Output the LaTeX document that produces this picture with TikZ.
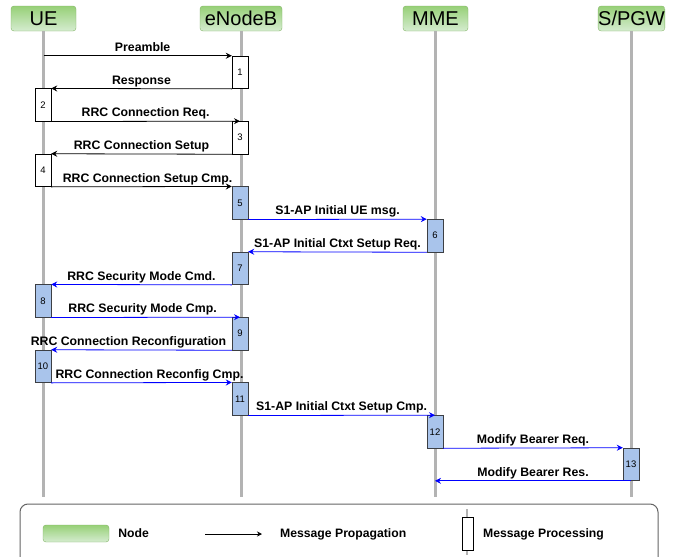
\documentclass[tikz,border=0pt]{standalone}
\usepackage{fontspec}
\setmainfont{Liberation Sans}
\usepackage{tikz}
\usetikzlibrary{arrows.meta,positioning}
\definecolor{nodetop}{RGB}{151,208,119}
\definecolor{nodebot}{RGB}{213,236,208}
\definecolor{nodeedge}{RGB}{130,179,102}
\definecolor{lifegray}{RGB}{179,179,179}
\definecolor{procblue}{RGB}{169,196,235}
\definecolor{procedge}{RGB}{60,63,68}
\definecolor{msgblue}{RGB}{0,0,255}
\definecolor{legedge}{RGB}{100,100,100}
\begin{document}
\begin{tikzpicture}[x=1pt,y=-1pt,>={Stealth[length=6pt,width=6pt,inset=2pt]},
    head/.style={draw=nodeedge,rounded corners=3pt,top color=nodetop,bottom color=nodebot,
      minimum width=65pt,minimum height=25pt,inner sep=0pt,font=\fontsize{20}{20}\selectfont},
    life/.style={line width=3pt,draw=lifegray},
    proc/.style={draw=black,fill=white,minimum width=16pt,minimum height=32.7pt,inner sep=0pt,
      font=\fontsize{9.5}{9.5}\selectfont},
    procb/.style={proc,draw=procedge,fill=procblue},
    msg/.style={->,line width=0.8pt},
    msgb/.style={msg,draw=msgblue,color=msgblue},
    lbl/.style={midway,above,inner sep=1.5pt,text height=9pt,text depth=2.5pt,text=black,
      font=\bfseries\fontsize{12.3}{13}\selectfont},
    legtxt/.style={inner sep=0pt,font=\bfseries\fontsize{12.2}{13}\selectfont}]
  \useasboundingbox (0,0) rectangle (678,557);
  % nodes and life lines
  \node[head] (ue) at (43.5,18.5) {UE};
  \node[head,minimum width=82pt] (enb) at (241,18.5) {eNodeB};
  \node[head] (mme) at (435.5,18.5) {MME};
  \node[head] (gw) at (631.5,18.5) {S/PGW};
  \coordinate (bottom) at (0,497);
  \draw[life] (ue.south) -- (ue.south |- bottom);
  \draw[life] (enb.south) -- (enb.south |- bottom);
  \draw[life] (mme.south) -- (mme.south |- bottom);
  \draw[life] (gw.south) -- (gw.south |- bottom);
  % processing
  \node[proc] (p1) at (240,72.3) {1};
  \node[proc] (p2) at (43,105) {2};
  \node[proc] (p3) at (240,137.7) {3};
  \node[proc] (p4) at (43,170.3) {4};
  \node[procb] (p5) at (240,203) {5};
  \node[procb] (p6) at (435,235.7) {6};
  \node[procb] (p7) at (240,268.3) {7};
  \node[procb] (p8) at (43,301) {8};
  \node[procb] (p9) at (240,333.7) {9};
  \node[procb] (p10) at (43,366.3) {10};
  \node[procb] (p11) at (240,399) {11};
  \node[procb] (p12) at (435,431.7) {12};
  \node[procb] (p13) at (631,464.3) {13};
  % messages
  \draw[msg] (ue.south |- p1.north) -- (p1.north west) node[lbl,xshift=5pt] {Preamble};
  \draw[msg] (p1.south west) -- (p2.north east) node[lbl] {Response};
  \draw[msg] (p2.south east) -- (p3.north) node[lbl] {RRC Connection Req.};
  \draw[msg] (p3.south west) -- (p4.north east) node[lbl] {RRC Connection Setup};
  \draw[msg] (p4.south east) -- (p5.north west) node[lbl,xshift=6pt] {RRC Connection Setup Cmp.};
  \draw[msgb] (p5.south east) -- (p6.north west) node[lbl] {S1-AP Initial UE msg.};
  \draw[msgb] (p6.south west) -- (p7.north east) node[lbl] {S1-AP Initial Ctxt Setup Req.};
  \draw[msgb] (p7.south west) -- (p8.north east) node[lbl] {RRC Security Mode Cmd.};
  \draw[msgb] (p8.south east) -- (p9.north) node[lbl,xshift=-3pt] {RRC Security Mode Cmp.};
  \draw[msgb] (p9.south west) -- (p10.north east) node[lbl,xshift=-13pt] {RRC Connection Reconfiguration};
  \draw[msgb] (p10.south east) -- (p11.north west) node[lbl,xshift=8pt] {RRC Connection Reconfig Cmp.};
  \draw[msgb] (p11.south east) -- (p12.north) node[lbl] {S1-AP Initial Ctxt Setup Cmp.};
  \draw[msgb] (p12.south east) -- (p13.north west) node[lbl] {Modify Bearer Req.};
  \draw[msgb] (p13.south) -- (p12.south |- p13.south) node[lbl] {Modify Bearer Res.};
  % legend
  \draw[legedge,line width=1pt,rounded corners=8pt] (20,504) rectangle (658,575);
  \node[head,minimum width=66pt,minimum height=17pt] (lnode) at (76,533.5) {};
  \node[legtxt,right=9pt of lnode] (lnodetxt) {Node};
  \coordinate (la) at (205,534);
  \coordinate (lb) at (262,534);
  \draw[->,line width=0.7pt,>={Stealth[length=5pt,width=5pt]}] (la) -- (lb);
  \node[legtxt,anchor=west] (lmsg) at (280,534.5) {Message Propagation};
  \coordinate (lt) at (467,509);
  \coordinate (lbm) at (467,555);
  \draw[life,line width=2pt] (lt) -- (lbm);
  \node[proc,minimum width=11pt,minimum height=33pt] (lproc) at (467.5,533.5) {};
  \node[legtxt,anchor=west] (lproctxt) at (483,534.5) {Message Processing};
\end{tikzpicture}
\end{document}
